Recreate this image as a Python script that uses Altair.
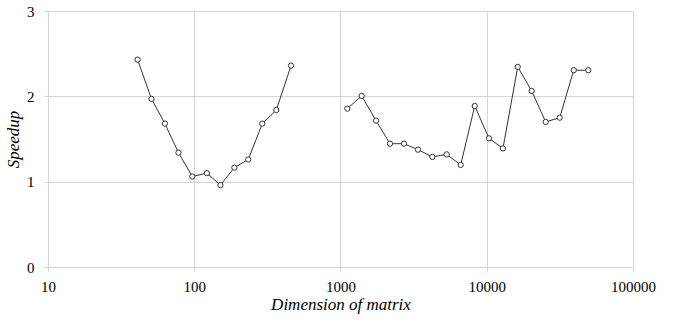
import altair as alt
import pandas as pd

left_x = [41, 51, 63, 78, 97, 122, 151, 188, 234, 292, 364, 459]
left_y = [2.43, 1.97, 1.68, 1.34, 1.06, 1.10, 0.96, 1.165, 1.26, 1.68, 1.84, 2.36]
right_x = [1114, 1396, 1750, 2180, 2716, 3388, 4245, 5323, 6634, 8275, 10355, 12909,
           16280, 20290, 25290, 31540, 39330, 49460]
right_y = [1.856, 2.005, 1.715, 1.445, 1.445, 1.375, 1.29, 1.32, 1.196, 1.887, 1.508, 1.39,
           2.345, 2.063, 1.70, 1.75, 2.306, 2.306]
x_ticks = [10, 100, 1000, 10000, 100000]
y_ticks = [0, 1, 2, 3]

df = pd.concat([
    pd.DataFrame({"dim": left_x, "speedup": left_y, "series": "a"}),
    pd.DataFrame({"dim": right_x, "speedup": right_y, "series": "b"}),
])

font = "Times New Roman"
grid = "#d4d4d4"

x = alt.X("dim:Q", scale=alt.Scale(type="log", domain=[10, 100000], nice=False),
          axis=alt.Axis(values=x_ticks, format="d", title="Dimension of matrix",
                        titleFont=font, titleFontStyle="italic", titleFontWeight="normal",
                        titleFontSize=17, titlePadding=2, titleColor="black",
                        labelFont=font, labelFontSize=15, labelColor="black",
                        labelPadding=8, tickSize=4, tickColor=grid, domainColor=grid,
                        gridColor=grid, labelFlush=False))
y = alt.Y("speedup:Q", scale=alt.Scale(domain=[0, 3], nice=False),
          axis=alt.Axis(values=y_ticks, title="Speedup",
                        titleFont=font, titleFontStyle="italic", titleFontWeight="normal",
                        titleFontSize=17, titlePadding=4, titleColor="black",
                        labelFont=font, labelFontSize=15, labelColor="black",
                        labelPadding=10, tickSize=4, tickColor=grid, domainColor=grid,
                        gridColor=grid, labelFlush=False))

base = alt.Chart(df)
line = base.mark_line(color="#333333", strokeWidth=1).encode(x=x, y=y, detail="series:N")
pts = base.mark_point(shape="circle", filled=True, fill="white", stroke="#333333",
                      strokeWidth=1, size=28, opacity=1).encode(x=x, y=y)

chart = (line + pts).properties(
    width=585, height=256,
    autosize=alt.AutoSizeParams(type="none"),
    padding={"left": 48, "top": 11, "right": 40, "bottom": 55},
).configure_view(stroke=grid).configure(background="white")

chart.save("out.html", embed_options={"renderer": "svg", "actions": False})
